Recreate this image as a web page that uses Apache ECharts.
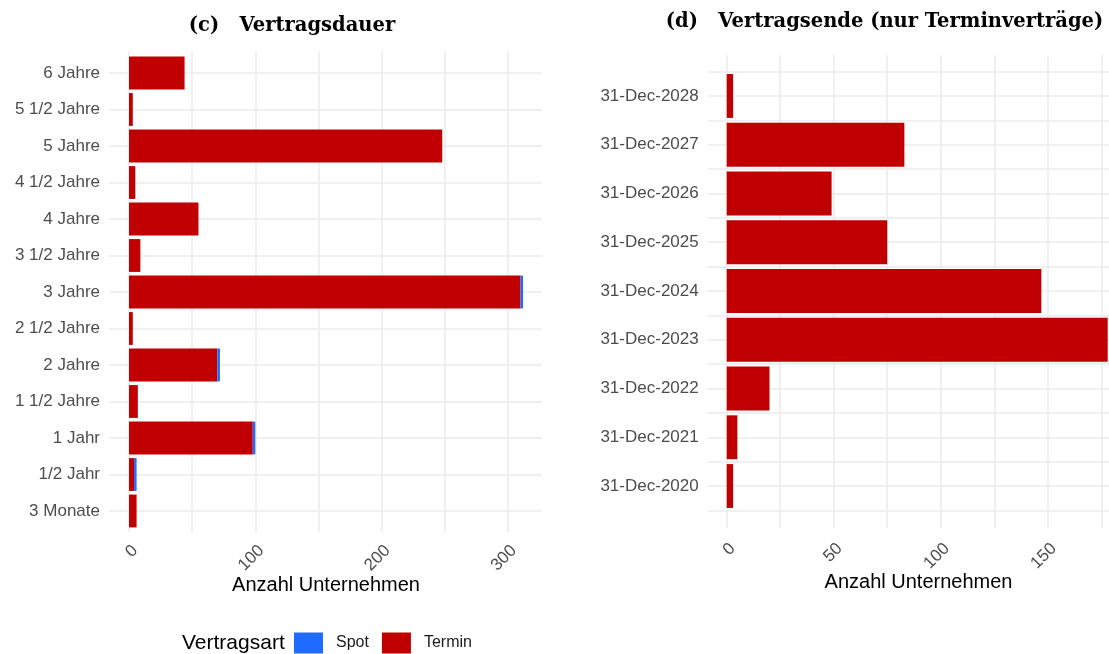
<!DOCTYPE html>
<html>
<head>
<meta charset="utf-8">
<script src="https://cdn.jsdelivr.net/npm/echarts@6/dist/echarts.min.js"></script>
<style>
  html, body { margin: 0; padding: 0; background: #fff; }
  #chart { width: 1109px; height: 654px; }
</style>
</head>
<body>
<div id="chart"></div>
<script>
// (c) Vertragsdauer – von unten nach oben
const dauerKategorien = ['3 Monate', '1/2 Jahr', '1 Jahr', '1 1/2 Jahre', '2 Jahre', '2 1/2 Jahre', '3 Jahre',
  '3 1/2 Jahre', '4 Jahre', '4 1/2 Jahre', '5 Jahre', '5 1/2 Jahre', '6 Jahre'];
const dauerTermin = [6, 4, 98, 7, 70, 3, 310, 9, 55, 5, 248, 3, 44];
const dauerSpot = [0, 2, 2, 0, 2, 0, 2, 0, 0, 0, 0, 0, 0];
const dauerTicks = [0, 100, 200, 300];

// (d) Vertragsende (nur Terminverträge)
const endeKategorien = ['31-Dec-2020', '31-Dec-2021', '31-Dec-2022', '31-Dec-2023', '31-Dec-2024',
  '31-Dec-2025', '31-Dec-2026', '31-Dec-2027', '31-Dec-2028'];
const endeTermin = [3, 5, 20, 178, 147, 75, 49, 83, 3];
const endeTicks = [0, 50, 100, 150];

const rot = '#c00000';
const blau = '#1f6bff';
const gridFarbe = '#ebebeb';
const labelFarbe = '#4d4d4d';
const sans = 'Liberation Sans';

const gridLine = { show: true, lineStyle: { color: gridFarbe, width: 1.5 } };

// Achse, die die senkrechten Gitterlinien und die Zahlen zeichnet
function gitterX(gridIndex, max, interval, ticks, margin) {
  return {
    type: 'value', gridIndex: gridIndex, min: 0, max: max, interval: interval,
    axisLine: { show: false }, axisTick: { show: false },
    axisLabel: {
      rotate: 45, margin: margin, color: labelFarbe, fontSize: 17, fontFamily: sans,
      verticalAlign: 'top', showMaxLabel: false,
      formatter: v => ticks.indexOf(v) >= 0 ? String(v) : ''
    },
    splitLine: Object.assign({ showMinLine: true, showMaxLine: false }, gridLine)
  };
}

// waagrechte Gitterlinien + Kategorienbeschriftung
function gitterY(gridIndex, cats) {
  return {
    type: 'category', gridIndex: gridIndex, data: cats,
    axisLine: { show: false }, axisTick: { show: false },
    axisLabel: { margin: 9, color: labelFarbe, fontSize: 17, fontFamily: sans },
    splitLine: Object.assign({ alignWithLabel: true }, gridLine)
  };
}

var myChart = echarts.init(document.getElementById('chart'));

var option = {
  backgroundColor: '#fff',
  animation: false,
  grid: [
    { left: 129, top: 54.75, width: 413, height: 474.5 },
    { left: 726.7, top: 71.6, width: 382.3, height: 438.8 },
    { left: 109, top: 54.75, width: 433, height: 474.5 },
    { left: 707.7, top: 71.6, width: 401.3, height: 438.8 },
    { left: 129, top: 51, width: 413, height: 481 },
    { left: 726.7, top: 55, width: 382.3, height: 473 }
  ],
  xAxis: [
    { type: 'value', gridIndex: 0, min: 0, max: 327, show: false },
    { type: 'value', gridIndex: 1, min: 0, max: 178.6, show: false },
    { type: 'value', gridIndex: 2, show: false },
    { type: 'value', gridIndex: 3, show: false },
    gitterX(4, 327, 50, dauerTicks, 10),
    gitterX(5, 178.6, 25, endeTicks, 12)
  ],
  yAxis: [
    { type: 'category', gridIndex: 0, data: dauerKategorien, show: false },
    { type: 'category', gridIndex: 1, data: endeKategorien, show: false },
    gitterY(2, dauerKategorien),
    gitterY(3, endeKategorien),
    { type: 'value', gridIndex: 4, show: false },
    { type: 'value', gridIndex: 5, show: false },
    // Zwischenlinien (halbe Jahre) im rechten Diagramm
    {
      type: 'category', gridIndex: 3, data: endeKategorien,
      axisLine: { show: false }, axisTick: { show: false }, axisLabel: { show: false },
      splitLine: gridLine
    }
  ],
  legend: {
    data: ['Spot', 'Termin'],
    left: 294, top: 632.5, padding: 0,
    itemWidth: 29, itemHeight: 21, itemGap: 13,
    icon: 'rect',
    textStyle: { fontSize: 16, fontFamily: sans, color: '#1a1a1a', padding: [0, 0, 0, 8] }
  },
  graphic: [
    { type: 'text', x: 292, y: 26, style: { text: '(c)   Vertragsdauer', font: 'bold 19.5px "DejaVu Serif"', fill: '#000', align: 'center', verticalAlign: 'middle' } },
    { type: 'text', x: 884.5, y: 22, style: { text: '(d)   Vertragsende (nur Terminverträge)', font: 'bold 19.5px "DejaVu Serif"', fill: '#000', align: 'center', verticalAlign: 'middle' } },
    { type: 'text', x: 326, y: 585, style: { text: 'Anzahl Unternehmen', font: '20px "Liberation Sans"', fill: '#000', align: 'center', verticalAlign: 'middle' } },
    { type: 'text', x: 918.5, y: 582, style: { text: 'Anzahl Unternehmen', font: '20px "Liberation Sans"', fill: '#000', align: 'center', verticalAlign: 'middle' } },
    { type: 'text', x: 182, y: 643, style: { text: 'Vertragsart', font: '21px "Liberation Sans"', fill: '#000', align: 'left', verticalAlign: 'middle' } }
  ],
  series: [
    {
      name: 'Termin', type: 'bar', xAxisIndex: 0, yAxisIndex: 0, stack: 'dauer',
      barCategoryGap: '10%', itemStyle: { color: rot }, data: dauerTermin
    },
    {
      name: 'Spot', type: 'bar', xAxisIndex: 0, yAxisIndex: 0, stack: 'dauer',
      barCategoryGap: '10%', itemStyle: { color: blau }, data: dauerSpot
    },
    {
      name: 'Termin', type: 'bar', xAxisIndex: 1, yAxisIndex: 1,
      barCategoryGap: '10%', itemStyle: { color: rot }, data: endeTermin
    }
  ]
};

option && myChart.setOption(option);
</script>
</body>
</html>
